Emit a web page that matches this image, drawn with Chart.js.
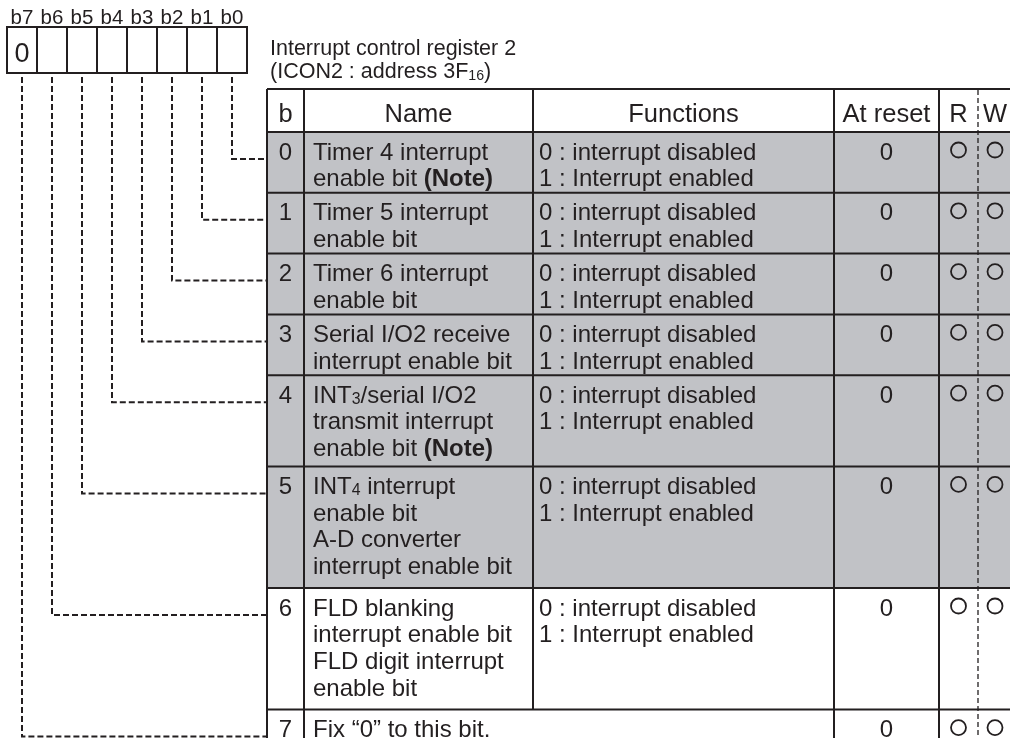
<!DOCTYPE html>
<html>
<head>
<meta charset="utf-8">
<script src="https://cdn.jsdelivr.net/npm/chart.js@4"></script>
<style>
  html, body { margin: 0; padding: 0; background: #fff; }
  canvas { display: block; }
</style>
</head>
<body>
<canvas id="myChart" width="1010" height="738"></canvas>
<script>
// register data
const bitLabels = ['b7', 'b6', 'b5', 'b4', 'b3', 'b2', 'b1', 'b0'];
const bitBoxValues = ['0', '', '', '', '', '', '', ''];
const registerTitle = ['Interrupt control register 2', '(ICON2 : address 3F_16)'];
const headers = ['b', 'Name', 'Functions', 'At reset', 'R', 'W'];
const bitNumbers = ['0', '1', '2', '3', '4', '5', '6', '7'];
const bitNames = [
    ['Timer 4 interrupt', 'enable bit **(Note)**'],
    ['Timer 5 interrupt', 'enable bit'],
    ['Timer 6 interrupt', 'enable bit'],
    ['Serial I/O2 receive', 'interrupt enable bit'],
    ['INT_3/serial I/O2', 'transmit interrupt', 'enable bit **(Note)**'],
    ['INT_4 interrupt', 'enable bit', 'A-D converter', 'interrupt enable bit'],
    ['FLD blanking', 'interrupt enable bit', 'FLD digit interrupt', 'enable bit'],
    ['Fix \u201c0\u201d to this bit.']
];
const bitFunctions = [
    ['0 : interrupt disabled', '1 : Interrupt enabled'],
    ['0 : interrupt disabled', '1 : Interrupt enabled'],
    ['0 : interrupt disabled', '1 : Interrupt enabled'],
    ['0 : interrupt disabled', '1 : Interrupt enabled'],
    ['0 : interrupt disabled', '1 : Interrupt enabled'],
    ['0 : interrupt disabled', '1 : Interrupt enabled'],
    ['0 : interrupt disabled', '1 : Interrupt enabled'],
    []
];
const resetValues = ['0', '0', '0', '0', '0', '0', '0', '0'];
const readable = [true, true, true, true, true, true, true, true];
const writable = [true, true, true, true, true, true, true, true];
const shaded = [true, true, true, true, true, true, false, false];

// layout
const ink = '#231f20';
const gray = '#c1c2c6';
const fontFamily = '"Liberation Sans", Arial, Helvetica, sans-serif';
const colEdges = [267, 304, 533, 834, 939, 978, 1012];
const tableTop = 89;
const headerH = 43;
const lineH = 30.4;
const boxLeft = 7, boxTop = 27, boxW = 30, boxH = 46;

const rowTops = [];
let yy = tableTop + headerH;
for (let i = 0; i < bitNumbers.length; i++) {
    rowTops.push(yy);
    yy += Math.max(bitNames[i].length, bitFunctions[i].length, 1) * lineH;
}
rowTops.push(yy);

const rColX = (colEdges[4] + colEdges[5]) / 2;
const wColX = (colEdges[5] + colEdges[6]) / 2;
const markPoints = [];
for (let i = 0; i < bitNumbers.length; i++) {
    if (readable[i]) markPoints.push({ x: rColX, y: rowTops[i] + 18 });
    if (writable[i]) markPoints.push({ x: wColX, y: rowTops[i] + 18 });
}

// text with **bold** and _sub parts
function richParts(str) {
    return str.split(/(\*\*.+?\*\*|_\d+)/).filter(Boolean).map(function (p) {
        if (p.startsWith('**')) return { t: p.slice(2, -2), bold: true };
        if (p.startsWith('_')) return { t: p.slice(1), sub: true };
        return { t: p };
    });
}
function partFont(p, size) {
    const s = p.sub ? size * 0.66 : size;
    return (p.bold ? 'bold ' : '') + s + 'px ' + fontFamily;
}
function drawRich(ctx, str, x, y, size, align) {
    const parts = richParts(str);
    let w = 0;
    parts.forEach(function (p) { ctx.font = partFont(p, size); w += ctx.measureText(p.t).width; });
    let cx = align === 'center' ? x - w / 2 : x;
    ctx.textAlign = 'left';
    ctx.textBaseline = 'alphabetic';
    parts.forEach(function (p) {
        ctx.font = partFont(p, size);
        ctx.fillText(p.t, cx, p.sub ? y + 1.5 : y);
        cx += ctx.measureText(p.t).width;
    });
}

const registerTable = {
    id: 'registerTable',
    beforeDatasetsDraw(chart) {
        const ctx = chart.ctx;
        const X = v => chart.scales.x.getPixelForValue(v);
        const Y = v => chart.scales.y.getPixelForValue(v);
        const nRows = bitNumbers.length;
        const bottom = rowTops[nRows];
        ctx.save();

        // shaded rows
        ctx.fillStyle = gray;
        for (let i = 0; i < nRows; i++) {
            if (!shaded[i]) continue;
            ctx.fillRect(X(colEdges[0]), Y(rowTops[i]), X(colEdges[6]) - X(colEdges[0]), Y(rowTops[i + 1]) - Y(rowTops[i]));
        }

        // header texts
        ctx.fillStyle = ink;
        for (let c = 0; c < headers.length; c++) {
            drawRich(ctx, headers[c], X((colEdges[c] + colEdges[c + 1]) / 2), Y(tableTop + 33), 25.5, 'center');
        }

        // row texts
        for (let i = 0; i < nRows; i++) {
            const base = rowTops[i] + 27.5;
            drawRich(ctx, bitNumbers[i], X((colEdges[0] + colEdges[1]) / 2), Y(base), 24, 'center');
            bitNames[i].forEach(function (s, k) {
                drawRich(ctx, s, X(colEdges[1] + 9), Y(base + k * 26.7), 24, 'left');
            });
            bitFunctions[i].forEach(function (s, k) {
                drawRich(ctx, s, X(colEdges[2] + 6), Y(base + k * 26.7), 24, 'left');
            });
            drawRich(ctx, resetValues[i], X((colEdges[3] + colEdges[4]) / 2), Y(base), 24, 'center');
        }

        // grid lines
        ctx.strokeStyle = ink;
        ctx.lineWidth = 2;
        ctx.beginPath();
        [tableTop, tableTop + headerH].concat(rowTops.slice(1, nRows)).forEach(function (r) {
            ctx.moveTo(X(colEdges[0]), Y(r));
            ctx.lineTo(X(colEdges[6]), Y(r));
        });
        [0, 1, 3, 4, 6].forEach(function (c) {
            ctx.moveTo(X(colEdges[c]), Y(tableTop));
            ctx.lineTo(X(colEdges[c]), Y(bottom));
        });
        ctx.moveTo(X(colEdges[2]), Y(tableTop));
        ctx.lineTo(X(colEdges[2]), Y(rowTops[nRows - 1]));
        ctx.stroke();

        // R / W dashed divider
        ctx.lineWidth = 1.3;
        ctx.setLineDash([5, 3]);
        ctx.beginPath();
        ctx.moveTo(X(colEdges[5]), Y(tableTop + 1));
        ctx.lineTo(X(colEdges[5]), Y(bottom));
        ctx.stroke();

        // connectors from bit boxes to rows
        ctx.lineWidth = 2;
        ctx.setLineDash([6, 3]);
        for (let i = 0; i < nRows; i++) {
            const bx = boxLeft + boxW * (bitLabels.length - 1 - i) + boxW / 2;
            const cy = rowTops[i] + 27;
            ctx.beginPath();
            ctx.moveTo(X(bx), Y(boxTop + boxH + 4));
            ctx.lineTo(X(bx), Y(cy));
            ctx.lineTo(X(colEdges[0]), Y(cy));
            ctx.stroke();
        }
        ctx.setLineDash([]);

        // bit boxes
        ctx.beginPath();
        ctx.rect(X(boxLeft), Y(boxTop), X(boxLeft + boxW * bitLabels.length) - X(boxLeft), Y(boxTop + boxH) - Y(boxTop));
        for (let k = 1; k < bitLabels.length; k++) {
            ctx.moveTo(X(boxLeft + boxW * k), Y(boxTop));
            ctx.lineTo(X(boxLeft + boxW * k), Y(boxTop + boxH));
        }
        ctx.stroke();
        bitLabels.forEach(function (s, k) {
            const cx = X(boxLeft + boxW * k + boxW / 2);
            drawRich(ctx, s, cx, Y(24), 20.5, 'center');
            if (bitBoxValues[k]) drawRich(ctx, bitBoxValues[k], cx, Y(62), 27, 'center');
        });

        // register title
        drawRich(ctx, registerTitle[0], X(270), Y(55), 21.5, 'left');
        drawRich(ctx, registerTitle[1], X(270), Y(78), 21.5, 'left');

        ctx.restore();
    }
};

const ctx = document.getElementById('myChart');
const myChart = new Chart(ctx, {
    type: 'scatter',
    data: {
        datasets: [{
            label: 'R/W',
            data: markPoints,
            pointStyle: 'circle',
            pointRadius: 7.5,
            pointBorderWidth: 1.8,
            pointBorderColor: ink,
            pointBackgroundColor: 'rgba(0,0,0,0)',
            clip: false
        }]
    },
    options: {
        responsive: false,
        animation: false,
        events: [],
        layout: { padding: 0, autoPadding: false },
        plugins: {
            legend: { display: false },
            tooltip: { enabled: false }
        },
        scales: {
            x: { type: 'linear', min: 0, max: 1010, display: false },
            y: { type: 'linear', min: 0, max: 738, reverse: true, display: false }
        }
    },
    plugins: [registerTable]
});
</script>
</body>
</html>
